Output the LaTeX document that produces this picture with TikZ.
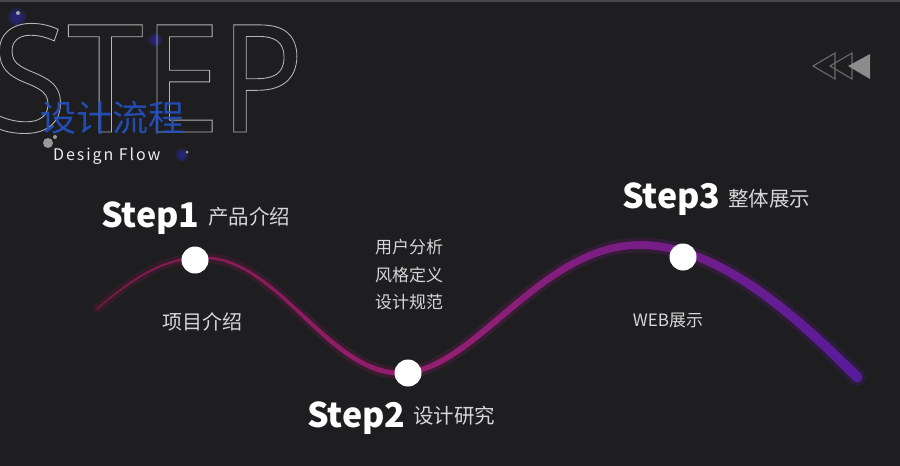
\documentclass[tikz,border=0pt]{standalone}
\usepackage{fontspec}
\usepackage{tikz}
\usetikzlibrary{decorations.markings}
\setmainfont{Noto Sans CJK SC}
\newfontfamily\outfont{Noto Sans}

\definecolor{bgdark}{HTML}{1E1D1F}
\definecolor{wavered}{HTML}{7E1A48}
\definecolor{wavemid}{HTML}{951E72}
\definecolor{waveviolet}{HTML}{561C9C}
\definecolor{flowblue}{HTML}{2452C4}
\definecolor{blobblue}{HTML}{2A2A96}
\definecolor{softgray}{HTML}{D6D6D6}

% one dot of the tapered wave, #1 = extra radius
\newcommand{\wavedot}[1]{%
	\pgfmathsetmacro\wf{\pgfkeysvalueof{/pgf/decoration/mark info/distance from start}/\pgfdecoratedpathlength}%
	\pgfmathsetmacro\wr{0.9+4.2*\wf+#1}%
	\pgfmathparse{\wf<0.45}%
	\ifnum\pgfmathresult=1
		\pgfmathtruncatemacro\wp{100*\wf/0.45}%
		\fill[wavemid!\wp!wavered] (0,0) circle (\wr pt);%
	\else
		\pgfmathtruncatemacro\wp{100*(\wf-0.45)/0.55}%
		\fill[waveviolet!\wp!wavemid] (0,0) circle (\wr pt);%
	\fi
}
% outline only text
\newcommand{\hollow}[1]{\special{pdf:literal direct 1 Tr 0.9 w 0.71 0.71 0.71 RG}#1\special{pdf:literal direct 0 Tr}}

\tikzset{
	stepdot/.style={circle, fill=white, minimum size=27pt, inner sep=0pt},
	steptitle/.style={anchor=base west, inner sep=0pt, text=white, font=\fontsize{34}{34}\selectfont\bfseries},
	stepname/.style={anchor=base west, inner sep=0pt, text=softgray, font=\fontsize{20.5}{20.5}\selectfont},
	stepnote/.style={inner sep=0pt, text=softgray, font=\fontsize{17}{17}\selectfont},
	tri/.style={draw=black!58, line width=1.1pt, line join=miter},
	blob/.style={fill=blobblue, opacity=0.35},
	wave/.style={decorate, decoration={markings, mark=between positions 0 and 1 step 1pt with {\wavedot{#1}}}},
}

\begin{document}
\begin{tikzpicture}[x=1pt, y=-1pt]
	\fill[bgdark] (0,0) rectangle (900,466);
	\useasboundingbox (0,0) rectangle (900,466);
	\draw[black!72, line width=1.5pt] (0,1) -- (900,1);

	% decoration blobs
	\foreach \bx/\by/\br in {17/17/9, 155/40/7, 182/155/6.5}{
		\fill[blob] (\bx,\by) circle (\br);
		\fill[blob] (\bx,\by) circle (0.7*\br);
		\fill[blob] (\bx,\by) circle (0.45*\br);
	}
	\fill[black!35] (18,13) circle (2);
	\fill[black!35] (187,152) circle (1.5);
	\fill[black!40] (48,143) circle (5);
	\fill[black!40] (55,137) circle (2);

	% big outlined title
	\node[anchor=base west, inner sep=0pt, text=bgdark] (bigstep) at (-9,132)
		{\outfont\fontsize{150}{150}\selectfont\scalebox{0.92}[1]{\hollow{STEP}}};
	\node[anchor=base west, inner sep=0pt, text=flowblue, opacity=0.9, font=\fontsize{36}{36}\selectfont] (flowcn) at (40,131) {设计流程};
	\node[anchor=base west, inner sep=0pt, text=white!92!black, font=\fontsize{16}{16}\selectfont\addfontfeature{LetterSpace=12}] (flowen) at (53,160) {Design Flow};

	% rewind mark
	\draw[tri] (813,66) -- (835,53) -- (835,79) -- cycle;
	\draw[tri] (830,66) -- (852,53) -- (852,79) -- cycle;
	\fill[black!45] (848,66) -- (870,54) -- (870,79) -- cycle;

	% the wave
	\coordinate (w0) at (97,309);
	\coordinate (w1) at (208,258);
	\coordinate (w2) at (402,373);
	\coordinate (w3) at (640,245);
	\coordinate (w4) at (858,378);
	\begin{scope}[transparency group, opacity=0.22]
		\path[wave=3.5] (w0) .. controls (140,272) and (170,256) .. (w1) .. controls (280,262) and (330,375) .. (w2) .. controls (475,371) and (540,245) .. (w3) .. controls (720,245) and (800,320) .. (w4);
	\end{scope}
	\path[wave=0] (w0) .. controls (140,272) and (170,256) .. (w1) .. controls (280,262) and (330,375) .. (w2) .. controls (475,371) and (540,245) .. (w3) .. controls (720,245) and (800,320) .. (w4);

	\node[stepdot] (dotA) at (195,260) {};
	\node[stepdot] (dotB) at (408,373) {};
	\node[stepdot] (dotC) at (683,257) {};

	\node[steptitle] (titleA) at (101,227) {Step1};
	\node[stepname] (nameA) at (208,224) {产品介绍};
	\node[steptitle] (titleB) at (307,427) {Step2};
	\node[stepname] (nameB) at (413,423) {设计研究};
	\node[steptitle] (titleC) at (622,208) {Step3};
	\node[stepname] (nameC) at (728,206) {整体展示};

	\node[stepnote, font=\fontsize{20}{20}\selectfont] (noteA) at (202,322) {项目介绍};
	\node[stepnote] (noteB1) at (409,247) {用户分析};
	\node[stepnote] (noteB2) at (409,275) {风格定义};
	\node[stepnote] (noteB3) at (409,302) {设计规范};
	\node[stepnote] (noteC) at (668,320) {WEB展示};
\end{tikzpicture}
\end{document}
